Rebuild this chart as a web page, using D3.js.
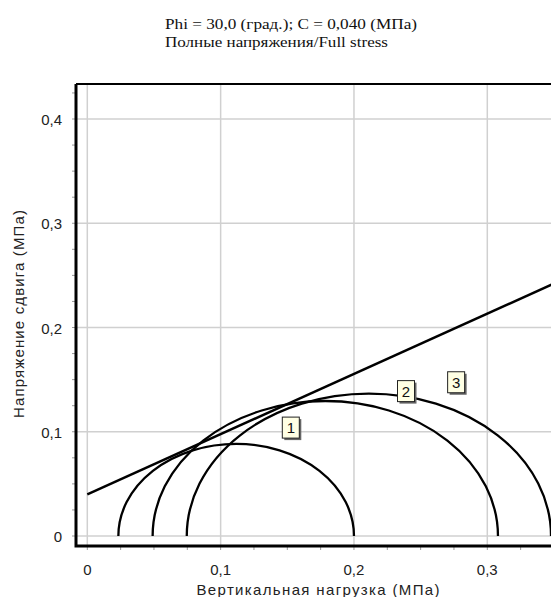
<!DOCTYPE html>
<html>
<head>
<meta charset="utf-8">
<script src="https://cdn.jsdelivr.net/npm/d3@7"></script>
<style>
  body { margin: 0; background: #fff; }
  svg { display: block; }
</style>
</head>
<body>
<div id="chart"></div>
<script>
// Mohr circles: minor / major principal stress (MPa)
var circleIds = ["1", "2", "3"];
var sigmaMinor = [0.0233, 0.049, 0.0746];
var sigmaMajor = [0.2, 0.308, 0.3478];

// where the little number boxes sit (data coords)
var labelSigma = [0.153, 0.2394, 0.277];
var labelTau = [0.1035, 0.1385, 0.147];

// Coulomb envelope
var phiDeg = 30.0;
var cohesion = 0.040;
var envelopeSigma = [0, 0.4];

var xTicks = [0, 0.1, 0.2, 0.3];
var yTicks = [0, 0.1, 0.2, 0.3, 0.4];

var titleLines = ["Phi = 30,0 (град.); C = 0,040 (МПа)", "Полные напряжения/Full stress"];
var xTitle = "Вертикальная нагрузка (МПа)";
var yTitle = "Напряжение сдвига (МПа)";

var W = 551, H = 597;
var plot = { left: 76, top: 84, bottom: 546, right: 600 };

var svg = d3.select("#chart")
    .append("svg")
    .attr("width", W)
    .attr("height", H);

// scales (0 at x=87.3, 0.1 per 133.3px; 0 at y=536, 0.1 per 104.3px)
var x = d3.scaleLinear()
    .domain([0, 0.3])
    .range([87.3, 487.3]);
var y = d3.scaleLinear()
    .domain([0, 0.4])
    .range([536, 119]);

svg.append("defs").append("clipPath")
    .attr("id", "clip")
    .append("rect")
    .attr("x", plot.left)
    .attr("y", plot.top)
    .attr("width", plot.right - plot.left)
    .attr("height", plot.bottom - plot.top);

// grid
var grid = svg.append("g");
grid.selectAll("line.v")
    .data(xTicks)
    .enter()
    .append("line")
    .attr("x1", d => x(d)).attr("x2", d => x(d))
    .attr("y1", plot.top).attr("y2", plot.bottom)
    .attr("stroke", "#d0d0d0").attr("stroke-width", 1.5);
grid.selectAll("line.h")
    .data(yTicks)
    .enter()
    .append("line")
    .attr("x1", plot.left).attr("x2", plot.right)
    .attr("y1", d => y(d)).attr("y2", d => y(d))
    .attr("stroke", "#d0d0d0").attr("stroke-width", 1.5);

// minor ticks every 0.025
var xMinor = d3.range(0, 0.36, 0.025);
var yMinor = d3.range(0, 0.426, 0.025);
svg.append("g")
    .selectAll("line")
    .data(xMinor)
    .enter()
    .append("line")
    .attr("x1", d => x(d)).attr("x2", d => x(d))
    .attr("y1", plot.bottom).attr("y2", plot.bottom + 4)
    .attr("stroke", "#999").attr("stroke-width", 1);
svg.append("g")
    .selectAll("line")
    .data(yMinor)
    .enter()
    .append("line")
    .attr("x1", plot.left - 4).attr("x2", plot.left)
    .attr("y1", d => y(d)).attr("y2", d => y(d))
    .attr("stroke", "#999").attr("stroke-width", 1);

var fmt = d => d3.format(".1f")(d).replace(".", ",").replace(/^0,0$/, "0");

// tick labels
svg.append("g")
    .selectAll("text")
    .data(xTicks)
    .enter()
    .append("text")
    .attr("x", d => x(d))
    .attr("y", 575)
    .attr("text-anchor", "middle")
    .attr("font-family", "Liberation Sans, Arial, sans-serif")
    .attr("font-size", 15)
    .attr("fill", "#222")
    .text(fmt);
svg.append("g")
    .selectAll("text")
    .data(yTicks)
    .enter()
    .append("text")
    .attr("x", 62)
    .attr("y", d => y(d) + 6)
    .attr("text-anchor", "end")
    .attr("font-family", "Liberation Sans, Arial, sans-serif")
    .attr("font-size", 15)
    .attr("fill", "#222")
    .text(fmt);

// plotted marks
var marks = svg.append("g").attr("clip-path", "url(#clip)");

var tanPhi = Math.tan(phiDeg * Math.PI / 180);
marks.append("path")
    .datum(envelopeSigma)
    .attr("d", d3.line().x(d => x(d)).y(d => y(cohesion + tanPhi * d)))
    .attr("fill", "none")
    .attr("stroke", "#000")
    .attr("stroke-width", 2.5);

var circles = circleIds.map((id, i) => ({
    id: id,
    c: (sigmaMinor[i] + sigmaMajor[i]) / 2,
    r: (sigmaMajor[i] - sigmaMinor[i]) / 2
}));

marks.selectAll("path.circle")
    .data(circles)
    .enter()
    .append("path")
    .attr("d", function (d) {
        var rx = x(d.r) - x(0), ry = y(0) - y(d.r);
        return "M" + x(d.c - d.r) + "," + y(0) +
            " A" + rx + "," + ry + " 0 0 1 " + x(d.c + d.r) + "," + y(0);
    })
    .attr("fill", "none")
    .attr("stroke", "#000")
    .attr("stroke-width", 2.3);

// frame
svg.append("path")
    .attr("d", "M" + plot.left + "," + plot.top + " H" + plot.right)
    .attr("stroke", "#000").attr("stroke-width", 2);
svg.append("path")
    .attr("d", "M" + plot.left + "," + plot.top + " V" + plot.bottom + " H" + plot.right)
    .attr("fill", "none")
    .attr("stroke", "#000").attr("stroke-width", 3);

// number boxes
var boxes = svg.append("g")
    .selectAll("g")
    .data(circleIds)
    .enter()
    .append("g")
    .attr("transform", (d, i) => "translate(" + x(labelSigma[i]) + "," + y(labelTau[i]) + ")");
boxes.append("rect")
    .attr("x", -7).attr("y", -9).attr("width", 17).attr("height", 21)
    .attr("fill", "#666");
boxes.append("rect")
    .attr("x", -9).attr("y", -11).attr("width", 17).attr("height", 21)
    .attr("fill", "#ffffe4")
    .attr("stroke", "#222").attr("stroke-width", 1);
boxes.append("text")
    .attr("x", -0.5).attr("y", 5)
    .attr("text-anchor", "middle")
    .attr("font-family", "Liberation Sans, Arial, sans-serif")
    .attr("font-size", 15)
    .attr("fill", "#111")
    .text(d => d);

// titles
svg.append("g")
    .selectAll("text")
    .data(titleLines)
    .enter()
    .append("text")
    .attr("x", 165)
    .attr("y", (d, i) => 29 + i * 18)
    .attr("font-family", "Liberation Serif, Times New Roman, serif")
    .attr("font-size", 15)
    .attr("textLength", (d, i) => i == 0 ? 252 : 223)
    .attr("lengthAdjust", "spacingAndGlyphs")
    .attr("fill", "#111")
    .text(d => d);

svg.append("text")
    .attr("x", 318)
    .attr("y", 595)
    .attr("text-anchor", "middle")
    .attr("font-family", "Liberation Sans, Arial, sans-serif")
    .attr("font-size", 15)
    .attr("textLength", 243)
    .attr("fill", "#222")
    .text(xTitle);

svg.append("text")
    .attr("transform", "translate(24," + 314 + ") rotate(-90)")
    .attr("text-anchor", "middle")
    .attr("font-family", "Liberation Sans, Arial, sans-serif")
    .attr("font-size", 15)
    .attr("textLength", 208)
    .attr("fill", "#222")
    .text(yTitle);
</script>
</body>
</html>
